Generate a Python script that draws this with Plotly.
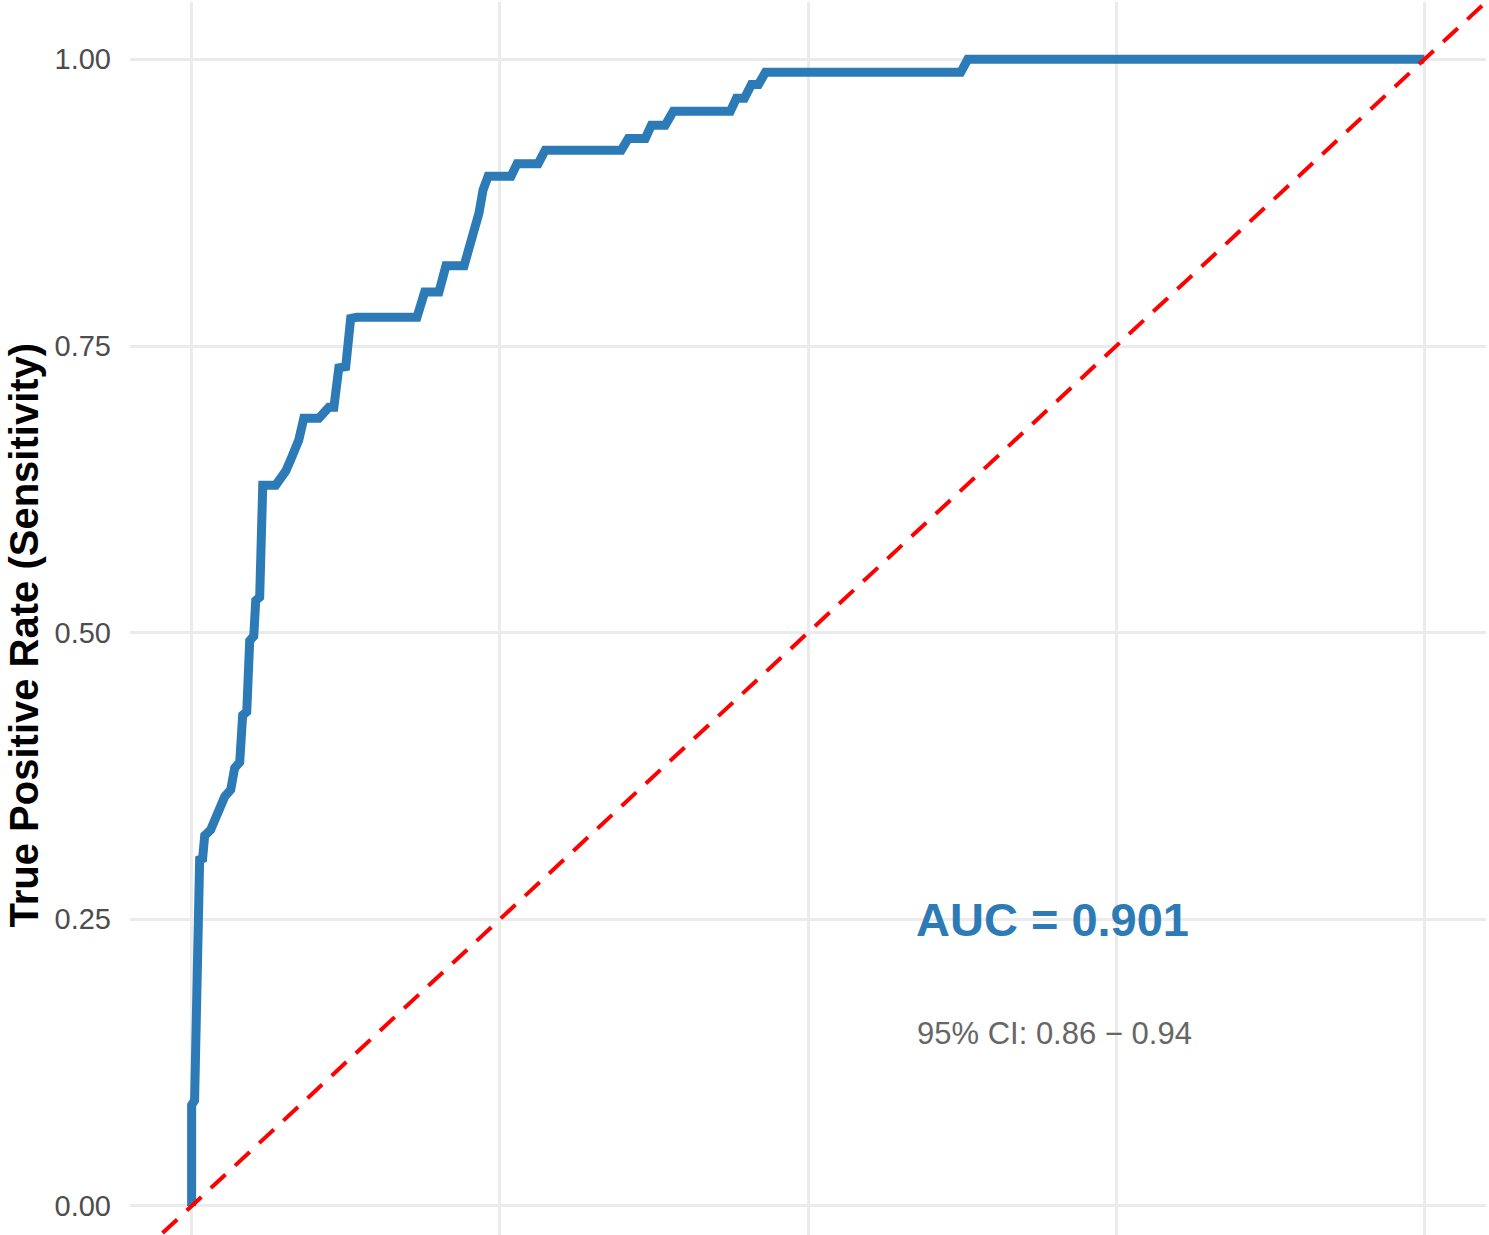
import plotly.graph_objects as go

# ROC curve coordinates
fpr = [0.0, 0.0, 0.0024, 0.0065, 0.0089, 0.0106, 0.0154, 0.0187, 0.0236, 0.0268,
       0.0317, 0.0349, 0.039, 0.0414, 0.0447, 0.0471, 0.0504, 0.052, 0.0552, 0.0577,
       0.0682, 0.0764, 0.0812, 0.0869, 0.091, 0.1032, 0.1113, 0.1154,
       0.1194, 0.125, 0.129, 0.134, 0.1828, 0.189, 0.2006, 0.2063, 0.221, 0.2266,
       0.2275, 0.2331, 0.2364, 0.2405, 0.2591, 0.264, 0.2811, 0.2868, 0.3485, 0.3542,
       0.368, 0.3729, 0.3842, 0.3907, 0.437, 0.4419, 0.4484, 0.4541, 0.4598, 0.4655,
       0.6239, 0.6296, 1.0]
tpr = [0.0, 0.088, 0.092, 0.302, 0.303, 0.323, 0.328, 0.338, 0.347, 0.357,
       0.363, 0.382, 0.387, 0.428, 0.431, 0.493, 0.497, 0.528, 0.531, 0.6286,
       0.6286, 0.641, 0.653, 0.668, 0.687, 0.687, 0.6966, 0.6966,
       0.731, 0.732, 0.774, 0.775, 0.775, 0.797, 0.797, 0.820, 0.820, 0.842,
       0.842, 0.866, 0.886, 0.898, 0.898, 0.909, 0.909, 0.9207, 0.9207, 0.931,
       0.931, 0.9425, 0.9425, 0.9547, 0.9547, 0.966, 0.966, 0.978, 0.978, 0.9887,
       0.9887, 1.0, 1.0]

diag = [-0.2, 1.2]
tick_vals = [0, 0.25, 0.5, 0.75, 1.0]
tick_text = ["0.00", "0.25", "0.50", "0.75", "1.00"]

auc_text = "AUC = 0.901"
ci_text = "95% CI: 0.86 \u2212 0.94"
y_title = "True Positive Rate (Sensitivity)"

BLUE = "#2c7bb6"
GRID = "#ebebeb"
FONT = "Liberation Sans, Arial, Helvetica, sans-serif"

fig = go.Figure()
fig.add_trace(go.Scatter(x=fpr, y=tpr, mode="lines",
                         line=dict(color=BLUE, width=9), hoverinfo="skip",
                         showlegend=False))
fig.add_trace(go.Scatter(x=diag, y=diag, mode="lines",
                         line=dict(color="#ff0000", width=4, dash="20px,13px"),
                         hoverinfo="skip", showlegend=False))

fig.update_layout(
    width=1489, height=1235,
    margin=dict(l=130, r=3, t=2, b=0),
    paper_bgcolor="white", plot_bgcolor="white",
    font=dict(family=FONT),
    showlegend=False,
    xaxis=dict(range=[-0.05, 1.05], tickvals=tick_vals, showticklabels=False,
               showgrid=True, gridcolor=GRID, gridwidth=2.5, zeroline=False,
               showline=False, ticks=""),
    yaxis=dict(range=[-0.0253, 1.05], tickvals=tick_vals, ticktext=tick_text,
               tickfont=dict(size=29, color="#4d4d4d", family=FONT),
               showgrid=True, gridcolor=GRID, gridwidth=2.5, zeroline=False,
               showline=False, ticks="", ticklabelstandoff=18),
    annotations=[
        dict(text="<b>" + y_title + "</b>", xref="paper", yref="paper",
             x=-0.0959, y=0.487, xanchor="left", yanchor="middle",
             textangle=-90, showarrow=False,
             font=dict(size=40, color="black", family=FONT)),
        dict(text="<b>" + auc_text + "</b>", xref="x", yref="y",
             x=0.698, y=0.25, xanchor="center", yanchor="middle", showarrow=False,
             font=dict(size=47, color=BLUE, family=FONT)),
        dict(text=ci_text, xref="x", yref="y",
             x=0.7, y=0.15, xanchor="center", yanchor="middle", showarrow=False,
             font=dict(size=31, color="#666666", family=FONT)),
    ],
)

fig.write_html("out.html")
